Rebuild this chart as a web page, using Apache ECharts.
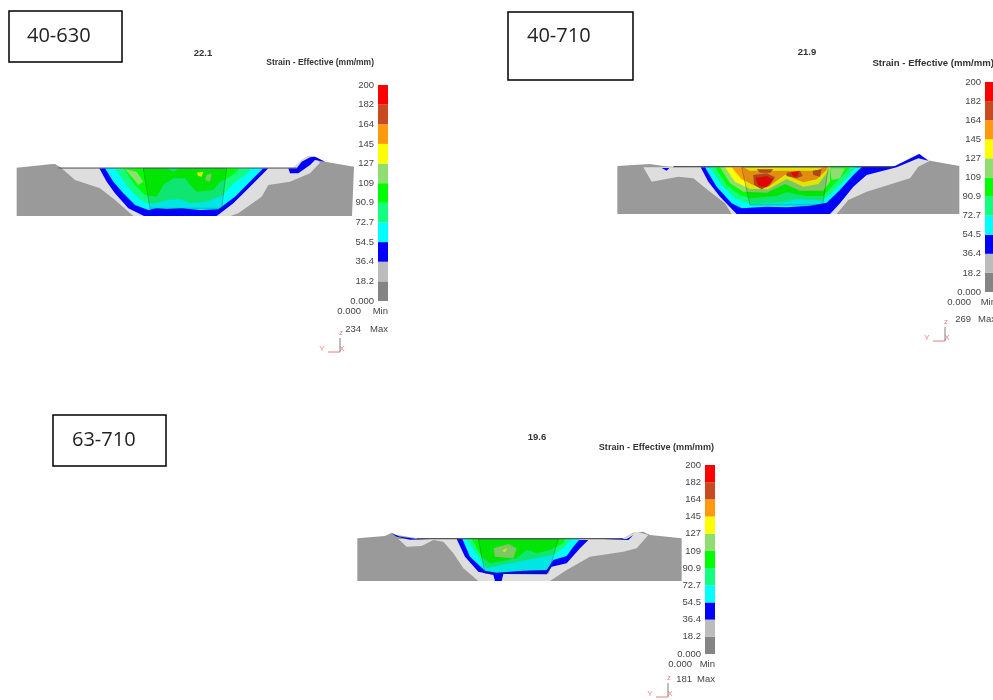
<!DOCTYPE html>
<html><head><meta charset="utf-8">
<style>html,body{margin:0;padding:0;background:#fff}#c{width:993px;height:700px;filter:blur(0.45px)}</style>
<script src="https://cdn.jsdelivr.net/npm/echarts@6/dist/echarts.min.js"></script>
</head><body><div id="c"></div>
<script>
// Colour key
const bandColors=['#848484','#bcbcbc','#0000ff','#00ffff','#12ff80','#00ff00','#90dd70','#ffff00','#ff9a10','#c84a20','#ff0000'];
// The two lowest bands appear paler on the sections than on the key
const sectionColors=['#9a9a9a','#dedede','#0000ff','#00ffff','#12ff80','#00ff00','#90dd70','#ffff00','#ff9a10','#c84a20','#ff0000'];
const tickLabels=['0.000','18.2','36.4','54.5','72.7','90.9','109','127','145','164','182','200'];
const captions=['40-630','40-710','63-710'];
const stepValues=['22.1','21.9','19.6'];
const minValues=['0.000','0.000','0.000'];
const maxValues=['234','269','181'];
const keyTitle='Strain - Effective (mm/mm)';

// Contour outlines of the sections, [band index, x,y, x,y, ...] in section units
const sectionA=[
 [0, 50,83,150,73,165,72,185,84,880,84,905,60,925,48,945,50,975,65,1062,80,1056,228,50,228],
 [1, 185,85,225,120,300,145,345,180,400,228,692,228,715,220,785,170,805,135,870,125,930,100,960,68,945,50,925,48,905,60,880,85],
 [2, 298,85,320,125,345,160,385,205,432,228,650,228,700,190,750,140,785,105,805,85],
 [2, 865,85,870,100,895,100,930,75,945,60,975,65,945,50,930,52,905,65,890,85],
 [3, 315,85,340,125,370,160,405,195,445,210,470,205,500,207,545,205,575,208,600,210,655,208,705,170,745,130,775,100,790,85],
 [4, 345,85,375,130,410,170,440,190,470,190,500,180,540,178,570,190,620,185,670,165,700,130,730,110,755,85],
 [5, 370,85,405,135,435,165,470,170,490,135,520,115,555,115,570,135,590,155,640,150,660,125,690,110,720,85],
 [6, 375,88,410,95,430,125,415,135,395,110],
 [6, 620,105,635,100,630,125,615,120],
 [4, 500,85,540,85,520,95],
 [7, 590,98,610,95,605,110,595,108]
];
const sectionB=[
 [0, 22,78,120,72,160,78,190,80,850,80,925,42,960,62,1048,78,1048,222,22,222],
 [1, 100,82,125,125,205,110,250,115,300,155,345,190,365,222,680,222,715,180,770,155,900,115,925,80,960,62,930,42,850,80],
 [2, 272,82,295,125,330,170,380,222,660,222,690,190,730,140,770,105,860,82,925,55,955,62,928,42,855,78],
 [2, 155,84,178,84,170,92],
 [3, 285,82,320,140,365,190,395,205,470,200,530,202,600,197,650,188,690,150,730,105,755,82],
 [4, 300,82,335,135,375,175,420,192,520,187,560,177,640,182,680,145,715,110,735,82],
 [5, 315,82,350,135,390,165,420,175,500,168,530,157,590,168,640,168,675,130,700,105,720,82],
 [6, 330,82,360,130,400,155,470,158,525,132,570,152,640,152,660,125,660,82],
 [6, 660,85,705,85,690,115,665,120],
 [7, 345,82,375,125,420,147,475,148,530,117,580,140,625,132,650,100,660,82],
 [8, 365,82,395,118,430,135,475,140,525,104,580,127,620,118,650,90,650,82],
 [7, 400,82,640,82,620,92,420,92],
 [9, 430,105,470,100,495,112,480,135,455,148,432,135],
 [9, 440,88,490,88,480,98,450,98],
 [9, 530,98,570,92,578,108,560,115,530,108],
 [9, 608,92,635,88,630,110,610,105],
 [10, 437,115,470,108,490,118,470,142,445,138],
 [10, 543,97,567,93,562,110,550,110]
];
const sectionC=[
 [0, 22,55,105,48,125,38,140,45,200,55,820,55,850,38,880,35,900,45,995,55,995,183,22,183],
 [1, 145,57,170,80,215,78,250,60,280,65,310,100,340,145,385,183,600,183,650,150,720,110,820,95,860,85,895,45,860,35,820,55],
 [2, 320,57,345,110,385,155,430,165,435,183,455,183,460,162,590,163,605,140,650,130,690,85,715,60],
 [2, 125,40,150,50,200,57,240,58,180,59,140,50],
 [2, 760,58,830,57,850,45,835,60],
 [3, 337,57,360,110,405,152,440,158,520,152,590,150,610,120,650,108,670,80,690,57],
 [4, 350,57,378,100,410,145,440,138,540,118,610,105,640,85,665,57],
 [5, 365,57,395,110,420,130,500,115,530,90,560,100,600,90,640,70,645,57],
 [6, 430,85,475,72,500,85,490,115,435,110],
 [4, 540,90,565,105,555,115,535,105],
 [7, 457,92,472,83,465,97]
];
// Translucent punch outline in each section
const punchA=[430,85,680,85,665,205,450,205];
const punchB=[395,82,655,82,638,195,420,195];
const punchC=[385,57,625,57,595,160,405,160];
// Flat top line of each section
const surfaceA=[175,84,890,84];
const surfaceB=[190,80,850,80];
const surfaceC=[200,56,820,56];

function pairs(a){const r=[];for(let i=0;i<a.length;i+=2)r.push([a[i],a[i+1]]);return r;}

const panels=[
 {sec:sectionA,punch:punchA,surf:surfaceA,g:{left:0,top:140,width:370,height:90},xMax:1110,yMax:270,headSize:8.5,
  key:{left:378,top:85,width:10,height:216},title:[203,53],head:[374,63],minY:311,maxY:329,rowX:[361,388],tri:[340,352],cap:[9,11,113,51],capT:[27,36]},
 {sec:sectionB,punch:punchB,surf:surfaceB,g:{left:610,top:140,width:370,height:90},xMax:1110,yMax:270,headSize:9.6,
  key:{left:985,top:82,width:10,height:210},title:[807,52],head:[994,63],minY:302,maxY:319,rowX:[971,996],tri:[945,341],cap:[508,12,125,68],capT:[527,36]},
 {sec:sectionC,punch:punchC,surf:surfaceC,g:{left:350,top:520,width:340,height:70},xMax:1020,yMax:210,headSize:9.1,
  key:{left:705,top:465,width:10,height:189},title:[537,437],head:[714,447],minY:664,maxY:679,rowX:[692,715],tri:[668,697],cap:[53,415,113,51],capT:[72,440]}
];

const grid=[],xAxis=[],yAxis=[],series=[],graphic=[];
function polySeries(idx,points,style,z){
 const pts=pairs(points);
 series.push({type:'custom',xAxisIndex:idx,yAxisIndex:idx,coordinateSystem:'cartesian2d',z:z,silent:true,clip:false,
  data:[[pts[0][0],pts[0][1]]],
  renderItem:(p,api)=>({type:'polygon',shape:{points:pts.map(q=>api.coord(q))},style:style})});
}
panels.forEach((P,n)=>{
 const i=n*2;
 grid.push(P.g);
 xAxis.push({type:'value',gridIndex:i,min:0,max:P.xMax,show:false});
 yAxis.push({type:'value',gridIndex:i,min:0,max:P.yMax,inverse:true,show:false});
 P.sec.forEach((s,k)=>polySeries(i,s.slice(1),{fill:sectionColors[s[0]]},2+k));
 polySeries(i,P.punch,{fill:'rgba(0,50,20,0.12)',stroke:'rgba(20,70,40,0.35)',lineWidth:1},40);
 series.push({type:'line',xAxisIndex:i,yAxisIndex:i,data:pairs(P.surf),symbol:'none',silent:true,z:41,
  lineStyle:{color:'#555',width:1.2}});
 // colour key
 grid.push(P.key);
 xAxis.push({type:'value',gridIndex:i+1,min:0,max:1,show:false});
 yAxis.push({type:'value',gridIndex:i+1,min:0,max:11,interval:1,
  axisLine:{show:false},axisTick:{show:false},splitLine:{show:false},
  axisLabel:{show:true,margin:4,color:'#444',fontSize:9.5,fontFamily:'Liberation Sans',
   formatter:v=>tickLabels[v]}});
 series.push({type:'custom',xAxisIndex:i+1,yAxisIndex:i+1,silent:true,clip:false,
  data:bandColors.map((c,b)=>[b]),encode:{y:0},
  renderItem:(p,api)=>{const b=api.value(0),a=api.coord([0,b]),c=api.coord([1,b+1]);
   return {type:'rect',shape:{x:a[0],y:c[1],width:c[0]-a[0],height:a[1]-c[1]},style:{fill:bandColors[b]}};}});
 // texts
 const bold={fontFamily:'Liberation Sans',fontWeight:'bold',fontSize:P.headSize,fill:'#333'};
 const t={fontFamily:'Liberation Sans',fontSize:9.5,fill:'#444'};
 graphic.push({type:'text',x:P.title[0],y:P.title[1],style:{...bold,fontSize:9.5,text:stepValues[n],align:'center',verticalAlign:'middle'}});
 graphic.push({type:'text',x:P.head[0],y:P.head[1],style:{...bold,text:keyTitle,align:'right',verticalAlign:'middle'}});
 graphic.push({type:'text',x:P.rowX[0],y:P.minY,style:{...t,text:minValues[n],align:'right',verticalAlign:'middle'}});
 graphic.push({type:'text',x:P.rowX[1],y:P.minY,style:{...t,text:'Min',align:'right',verticalAlign:'middle'}});
 graphic.push({type:'text',x:P.rowX[0],y:P.maxY,style:{...t,text:maxValues[n],align:'right',verticalAlign:'middle'}});
 graphic.push({type:'text',x:P.rowX[1],y:P.maxY,style:{...t,text:'Max',align:'right',verticalAlign:'middle'}});
 const [tx,ty]=P.tri, red={fontFamily:'Liberation Sans',fontSize:8,fill:'#f08080',align:'center',verticalAlign:'middle'};
 graphic.push({type:'text',x:tx+1,y:ty-19,style:{...red,text:'z'}});
 graphic.push({type:'text',x:tx-18,y:ty-3,style:{...red,text:'Y'}});
 graphic.push({type:'text',x:tx+2,y:ty-3,style:{...red,text:'X'}});
 graphic.push({type:'line',shape:{x1:tx-12,y1:ty,x2:tx,y2:ty},style:{stroke:'#e08080',lineWidth:1}});
 graphic.push({type:'line',shape:{x1:tx,y1:ty-14,x2:tx,y2:ty},style:{stroke:'#808080',lineWidth:1}});
 const [bx,by,bw,bh]=P.cap;
 graphic.push({type:'rect',shape:{x:bx,y:by,width:bw,height:bh},style:{fill:'#fff',stroke:'#000',lineWidth:1.5}});
 graphic.push({type:'text',x:P.capT[0],y:P.capT[1],style:{text:captions[n],fontFamily:'Open Sans',fontSize:20,fill:'#222',verticalAlign:'middle'}});
});
const chart=echarts.init(document.getElementById('c'),null,{renderer:'canvas'});
chart.setOption({animation:false,backgroundColor:'#fff',grid,xAxis,yAxis,series,graphic});
</script></body></html>
